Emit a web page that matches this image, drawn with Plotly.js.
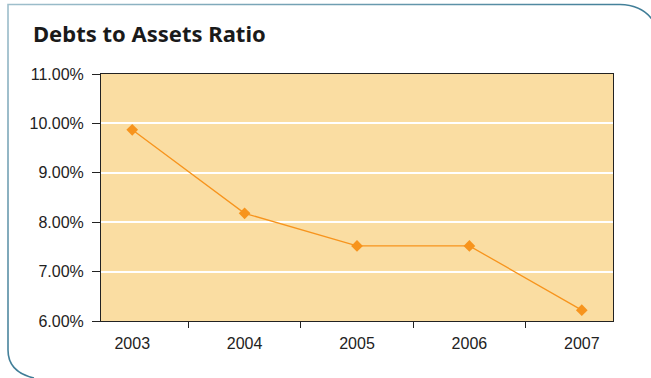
<!DOCTYPE html>
<html>
<head>
<meta charset="utf-8">
<script src="https://cdn.plot.ly/plotly-3.0.1.min.js"></script>
<style>
  html, body { margin: 0; padding: 0; background: #ffffff; }
  #wrap { position: relative; width: 651px; height: 378px; overflow: hidden; }
  #frame { position: absolute; left: 0; top: 0; }
  #chart { position: absolute; left: 0; top: 0; width: 651px; height: 378px; }
</style>
</head>
<body>
<div id="wrap">
  <!-- rounded panel border behind the chart -->
  <svg id="frame" width="651" height="378">
    <defs>
      <linearGradient id="edge" x1="0" y1="0" x2="1" y2="1" gradientUnits="objectBoundingBox">
        <stop offset="0" stop-color="#9fbfcc"/>
        <stop offset="0.5" stop-color="#3f7d97"/>
        <stop offset="1" stop-color="#1a5674"/>
      </linearGradient>
    </defs>
    <path d="M 34 378 Q 8 372 8 350 L 8 4.5 L 620 4.5 Q 646 5 656 26"
          fill="none" stroke="url(#edge)" stroke-width="1.6"/>
  </svg>
  <div id="chart"></div>
</div>
<script>
// Debt-to-assets ratio by year
const years = ['2003', '2004', '2005', '2006', '2007'];
const ratios = [0.0987, 0.0818, 0.0752, 0.0752, 0.0622];
const yTicks = [0.06, 0.07, 0.08, 0.09, 0.10, 0.11];
const yTickLabels = ['6.00%', '7.00%', '8.00%', '9.00%', '10.00%', '11.00%'];

const trace = {
  x: years,
  y: ratios,
  type: 'scatter',
  mode: 'lines+markers',
  line: { color: '#f7941d', width: 1.3 },
  marker: { symbol: 'diamond', size: 9, color: '#f7941d' },
  hoverinfo: 'skip'
};

const tickFont = { family: 'Liberation Sans, Arial, sans-serif', size: 16, color: '#222' };

const layout = {
  width: 651,
  height: 378,
  margin: { l: 101, r: 38, t: 74, b: 57 },
  paper_bgcolor: 'rgba(0,0,0,0)',
  plot_bgcolor: '#fadda2',
  showlegend: false,
  title: {
    text: '<b>Debts to Assets Ratio</b>',
    x: 0, xref: 'container', xanchor: 'left',
    pad: { l: 33 },
    y: 0.91, yanchor: 'middle',
    font: { family: 'Noto Sans, Open Sans, sans-serif', size: 22, color: '#1a1a1a' }
  },
  xaxis: {
    type: 'category',
    showgrid: false,
    zeroline: false,
    showline: true,
    linecolor: '#222',
    linewidth: 1,
    mirror: true,
    ticks: 'outside',
    tickson: 'boundaries',
    ticklen: 6,
    tickcolor: '#222',
    ticklabelstandoff: 8,
    tickfont: tickFont,
    fixedrange: true
  },
  yaxis: {
    range: [0.06, 0.11],
    tickvals: yTicks,
    ticktext: yTickLabels,
    showgrid: true,
    gridcolor: '#ffffff',
    gridwidth: 2,
    zeroline: false,
    showline: true,
    linecolor: '#222',
    linewidth: 1,
    mirror: true,
    ticks: 'outside',
    ticklen: 8,
    tickcolor: '#222',
    ticklabelstandoff: 5,
    tickfont: tickFont,
    fixedrange: true
  }
};

Plotly.newPlot('chart', [trace], layout, { displayModeBar: false, staticPlot: true });
</script>
</body>
</html>
